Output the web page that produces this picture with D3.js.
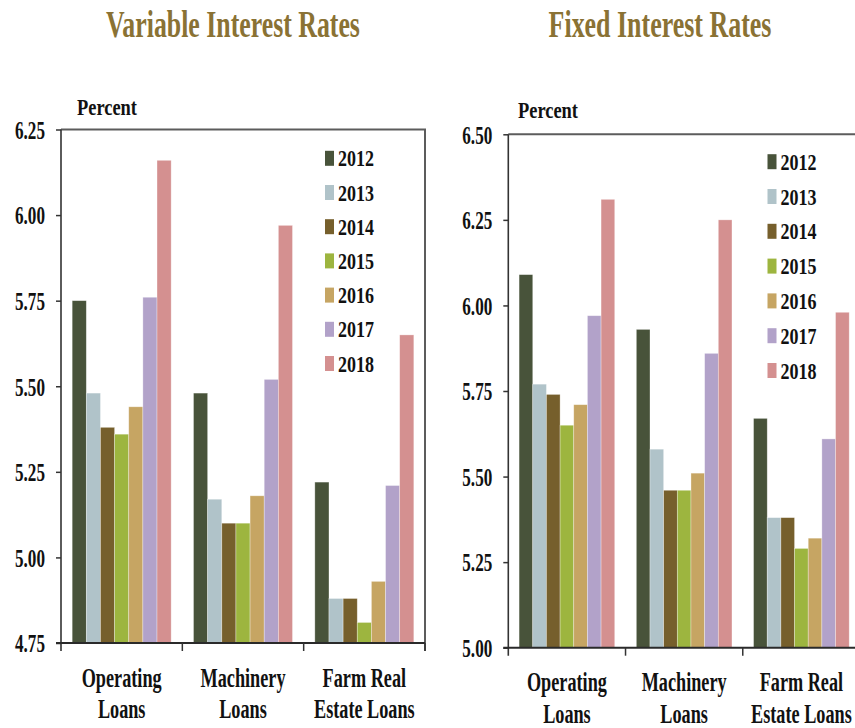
<!DOCTYPE html>
<html>
<head>
<meta charset="utf-8">
<script src="https://cdn.jsdelivr.net/npm/d3@7"></script>
<style>
  html, body { margin: 0; padding: 0; background: #fff; }
  svg { display: block; font-family: "Liberation Serif", "Times New Roman", serif; font-weight: bold; }
</style>
</head>
<body>
<script>
// ---- data ----
const categories = ["Operating Loans", "Machinery Loans", "Farm Real Estate Loans"];
const categoryLines = [["Operating", "Loans"], ["Machinery", "Loans"], ["Farm Real", "Estate Loans"]];
const years = ["2012", "2013", "2014", "2015", "2016", "2017", "2018"];
const yearColors = ["#48533a", "#b0c3c9", "#765f2c", "#9db53f", "#c6a563", "#b2a2c9", "#d49090"];

// Variable interest rates (percent), one value per year 2012-2018
const variableOperating   = [5.75, 5.48, 5.38, 5.36, 5.44, 5.76, 6.16];
const variableMachinery   = [5.48, 5.17, 5.10, 5.10, 5.18, 5.52, 5.97];
const variableFarmRealEst = [5.22, 4.88, 4.88, 4.81, 4.93, 5.21, 5.65];

// Fixed interest rates (percent), one value per year 2012-2018
const fixedOperating   = [6.09, 5.77, 5.74, 5.65, 5.71, 5.97, 6.31];
const fixedMachinery   = [5.93, 5.58, 5.46, 5.46, 5.51, 5.86, 6.25];
const fixedFarmRealEst = [5.67, 5.38, 5.38, 5.29, 5.32, 5.61, 5.98];

const variableTicks = [4.75, 5.00, 5.25, 5.50, 5.75, 6.00, 6.25];
const fixedTicks    = [5.00, 5.25, 5.50, 5.75, 6.00, 6.25, 6.50];

// ---- layout ----
const W = 855, H = 728;
const titleColor = "#8a7234";

const panels = [
  {
    title: "Variable Interest Rates", titleX: 233, titleW: 254,
    series: [variableOperating, variableMachinery, variableFarmRealEst],
    ticks: variableTicks,
    x0: 61, x1: 425, top: 129.5, bottom: 643, frameRight: true,
    legendX: 325, legendY0: 158.3, legendStep: 34.2,
    percentX: 77, percentY: 115
  },
  {
    title: "Fixed Interest Rates", titleX: 660, titleW: 223,
    series: [fixedOperating, fixedMachinery, fixedFarmRealEst],
    ticks: fixedTicks,
    x0: 508.3, x1: 860, top: 134.3, bottom: 647.7, frameRight: false,
    legendX: 767.5, legendY0: 161.7, legendStep: 34.8,
    percentX: 518, percentY: 118.3
  }
];

const svg = d3.select("body").append("svg")
  .attr("width", W).attr("height", H)
  .attr("viewBox", `0 0 ${W} ${H}`);

// Narrow a text element horizontally: either to a fixed width or by a factor.
// The squeeze is done with a transform so the glyph box stays accurate.
function squeeze(sel, opts) {
  sel.each(function () {
    const t = d3.select(this);
    const x = +t.attr("x") || 0;
    const y = +t.attr("y") || 0;
    const w = this.getComputedTextLength();
    const k = opts.width ? opts.width / w : opts.factor;
    t.attr("x", 0).attr("y", 0)
      .attr("transform", `translate(${x},${y}) scale(${k},1)`);
  });
}

panels.forEach(p => {
  const g = svg.append("g");

  const y = d3.scaleLinear()
    .domain([p.ticks[0], p.ticks[p.ticks.length - 1]])
    .range([p.bottom, p.top]);

  const x = d3.scaleBand()
    .domain(categories)
    .range([p.x0, p.x1])
    .paddingInner(0).paddingOuter(0);

  const xi = d3.scaleBand()
    .domain(years)
    .range([0, x.bandwidth()])
    .paddingInner(0).paddingOuter(0.79);

  // title
  g.append("text")
    .attr("x", p.titleX).attr("y", 37)
    .attr("text-anchor", "middle")
    .attr("font-size", 37)
    .attr("fill", titleColor)
    .text(p.title)
    .call(squeeze, { width: p.titleW });

  // "Percent" unit label
  g.append("text")
    .attr("x", p.percentX).attr("y", p.percentY)
    .attr("font-size", 24)
    .attr("fill", "#111")
    .text("Percent")
    .call(squeeze, { width: 60 });

  // bars
  categories.forEach((c, ci) => {
    g.append("g")
      .attr("transform", `translate(${x(c)},0)`)
      .selectAll("rect")
      .data(p.series[ci].map((v, i) => ({ year: years[i], value: v, color: yearColors[i] })))
      .join("rect")
      .attr("x", d => xi(d.year))
      .attr("width", xi.bandwidth())
      .attr("y", d => y(d.value))
      .attr("height", d => p.bottom - y(d.value))
      .attr("fill", d => d.color)
      .attr("stroke", "#ffffff")
      .attr("stroke-opacity", 0.45)
      .attr("stroke-width", 0.7);
  });

  // frame: top and right edges
  g.append("line")
    .attr("x1", p.x0).attr("x2", p.x1 + 1)
    .attr("y1", p.top).attr("y2", p.top)
    .attr("stroke", "#5c5c5c").attr("stroke-width", 2);
  if (p.frameRight) {
    g.append("line")
      .attr("x1", p.x1).attr("x2", p.x1)
      .attr("y1", p.top).attr("y2", p.bottom + 8)
      .attr("stroke", "#5c5c5c").attr("stroke-width", 2);
  }

  // y axis
  const yAxis = d3.axisLeft(y)
    .tickValues(p.ticks)
    .tickSize(5)
    .tickPadding(11)
    .tickFormat(d3.format(".2f"));
  const ya = g.append("g")
    .attr("transform", `translate(${p.x0},0)`)
    .call(yAxis);
  ya.select(".domain").remove();
  ya.selectAll(".tick line").attr("stroke", "#333").attr("stroke-width", 1.5);
  ya.selectAll(".tick text")
    .attr("font-family", "Liberation Serif, Times New Roman, serif")
    .attr("font-weight", "bold")
    .attr("font-size", 26)
    .attr("fill", "#111")
    .attr("y", 0)
    .attr("dy", "0.34em")
    .call(squeeze, { width: 30 });
  g.append("line")
    .attr("x1", p.x0).attr("x2", p.x0)
    .attr("y1", p.top).attr("y2", p.bottom + 8)
    .attr("stroke", "#333").attr("stroke-width", 1.6);

  // x axis baseline and category separators
  g.append("line")
    .attr("x1", p.x0 - 5).attr("x2", p.x1)
    .attr("y1", p.bottom).attr("y2", p.bottom)
    .attr("stroke", "#2a2a2a").attr("stroke-width", 2);
  const seps = categories.map(c => x(c)).slice(1).concat([p.x1]);
  g.selectAll(".sep").data(seps).join("line")
    .attr("x1", d => d).attr("x2", d => d)
    .attr("y1", p.bottom).attr("y2", p.bottom + 8)
    .attr("stroke", "#333").attr("stroke-width", 1.5);

  // category labels (two lines each)
  categories.forEach((c, ci) => {
    const cx = x(c) + x.bandwidth() / 2;
    categoryLines[ci].forEach((line, li) => {
      g.append("text")
        .attr("x", cx)
        .attr("y", p.bottom + 43.5 + li * 31.8)
        .attr("text-anchor", "middle")
        .attr("font-size", 27)
        .attr("fill", "#111")
        .text(line)
        .call(squeeze, { factor: 0.675 });
    });
  });

  // legend
  const lg = g.append("g");
  years.forEach((yr, i) => {
    const cy = p.legendY0 + i * p.legendStep;
    lg.append("rect")
      .attr("x", p.legendX).attr("y", cy - 7.5)
      .attr("width", 9).attr("height", 15)
      .attr("fill", yearColors[i]);
    lg.append("text")
      .attr("x", p.legendX + 13).attr("y", cy + 8)
      .attr("font-size", 23)
      .attr("fill", "#111")
      .text(yr)
      .call(squeeze, { width: 36 });
  });
});
</script>
</body>
</html>
